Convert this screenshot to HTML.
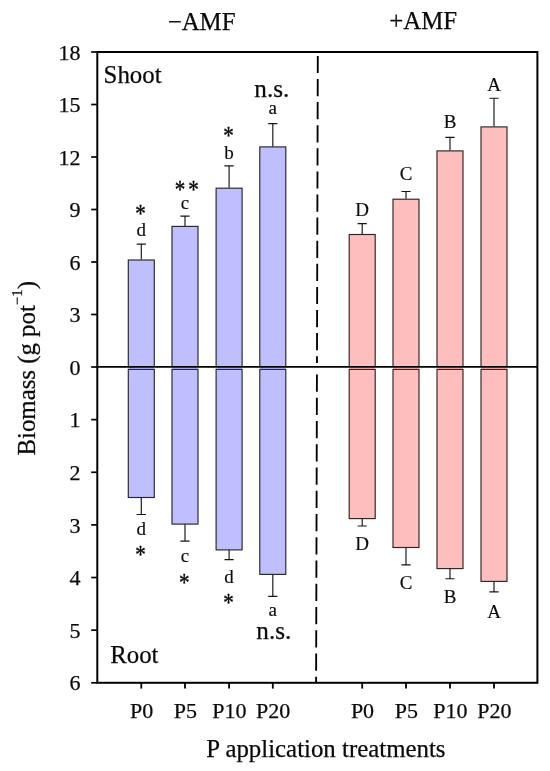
<!DOCTYPE html>
<html lang="en"><head><meta charset="utf-8"><title>Biomass</title>
<style>html,body{margin:0;padding:0;background:#fff}svg{display:block}text{font-family:"Liberation Serif","Times New Roman",serif;fill:#0a0a0a;stroke:#0a0a0a;stroke-width:0.25px}</style></head><body>
<svg width="550" height="771" viewBox="0 0 550 771">
<rect width="550" height="771" fill="#fff"/>
<rect x="128.30" y="260.00" width="26.0" height="106.60" fill="#bfbffe" stroke="#26262e" stroke-width="1.15"/>
<rect x="128.30" y="366.50" width="26.0" height="3" fill="#bfbffe"/>
<rect x="128.30" y="369.40" width="26.0" height="128.10" fill="#bfbffe" stroke="#26262e" stroke-width="1.15"/>
<path d="M141.30 259.50V244.10M136.70 244.10H145.90" stroke="#151515" stroke-width="1.15" fill="none"/>
<path d="M141.30 497.60V514.50M136.70 514.50H145.90" stroke="#151515" stroke-width="1.15" fill="none"/>
<rect x="172.00" y="226.40" width="26.0" height="140.20" fill="#bfbffe" stroke="#26262e" stroke-width="1.15"/>
<rect x="172.00" y="366.50" width="26.0" height="3" fill="#bfbffe"/>
<rect x="172.00" y="369.40" width="26.0" height="154.70" fill="#bfbffe" stroke="#26262e" stroke-width="1.15"/>
<path d="M185.00 225.90V216.10M180.40 216.10H189.60" stroke="#151515" stroke-width="1.15" fill="none"/>
<path d="M185.00 524.20V541.10M180.40 541.10H189.60" stroke="#151515" stroke-width="1.15" fill="none"/>
<rect x="216.10" y="188.20" width="26.0" height="178.40" fill="#bfbffe" stroke="#26262e" stroke-width="1.15"/>
<rect x="216.10" y="366.50" width="26.0" height="3" fill="#bfbffe"/>
<rect x="216.10" y="369.40" width="26.0" height="180.50" fill="#bfbffe" stroke="#26262e" stroke-width="1.15"/>
<path d="M229.10 187.70V165.80M224.50 165.80H233.70" stroke="#151515" stroke-width="1.15" fill="none"/>
<path d="M229.10 550.00V559.60M224.50 559.60H233.70" stroke="#151515" stroke-width="1.15" fill="none"/>
<rect x="259.80" y="146.90" width="26.0" height="219.70" fill="#bfbffe" stroke="#26262e" stroke-width="1.15"/>
<rect x="259.80" y="366.50" width="26.0" height="3" fill="#bfbffe"/>
<rect x="259.80" y="369.40" width="26.0" height="205.00" fill="#bfbffe" stroke="#26262e" stroke-width="1.15"/>
<path d="M272.80 146.40V123.60M268.20 123.60H277.40" stroke="#151515" stroke-width="1.15" fill="none"/>
<path d="M272.80 574.50V596.40M268.20 596.40H277.40" stroke="#151515" stroke-width="1.15" fill="none"/>
<rect x="349.20" y="234.50" width="26.0" height="132.10" fill="#ffbebe" stroke="#2e2424" stroke-width="1.15"/>
<rect x="349.20" y="366.50" width="26.0" height="3" fill="#ffbebe"/>
<rect x="349.20" y="369.40" width="26.0" height="149.20" fill="#ffbebe" stroke="#2e2424" stroke-width="1.15"/>
<path d="M362.20 234.00V223.60M357.60 223.60H366.80" stroke="#151515" stroke-width="1.15" fill="none"/>
<path d="M362.20 518.70V526.00M357.60 526.00H366.80" stroke="#151515" stroke-width="1.15" fill="none"/>
<rect x="393.00" y="199.20" width="26.0" height="167.40" fill="#ffbebe" stroke="#2e2424" stroke-width="1.15"/>
<rect x="393.00" y="366.50" width="26.0" height="3" fill="#ffbebe"/>
<rect x="393.00" y="369.40" width="26.0" height="178.10" fill="#ffbebe" stroke="#2e2424" stroke-width="1.15"/>
<path d="M406.00 198.70V191.50M401.40 191.50H410.60" stroke="#151515" stroke-width="1.15" fill="none"/>
<path d="M406.00 547.60V564.90M401.40 564.90H410.60" stroke="#151515" stroke-width="1.15" fill="none"/>
<rect x="437.00" y="150.90" width="26.0" height="215.70" fill="#ffbebe" stroke="#2e2424" stroke-width="1.15"/>
<rect x="437.00" y="366.50" width="26.0" height="3" fill="#ffbebe"/>
<rect x="437.00" y="369.40" width="26.0" height="199.20" fill="#ffbebe" stroke="#2e2424" stroke-width="1.15"/>
<path d="M450.00 150.40V137.30M445.40 137.30H454.60" stroke="#151515" stroke-width="1.15" fill="none"/>
<path d="M450.00 568.70V578.70M445.40 578.70H454.60" stroke="#151515" stroke-width="1.15" fill="none"/>
<rect x="481.00" y="126.90" width="26.0" height="239.70" fill="#ffbebe" stroke="#2e2424" stroke-width="1.15"/>
<rect x="481.00" y="366.50" width="26.0" height="3" fill="#ffbebe"/>
<rect x="481.00" y="369.40" width="26.0" height="212.00" fill="#ffbebe" stroke="#2e2424" stroke-width="1.15"/>
<path d="M494.00 126.40V98.20M489.40 98.20H498.60" stroke="#151515" stroke-width="1.15" fill="none"/>
<path d="M494.00 581.50V591.80M489.40 591.80H498.60" stroke="#151515" stroke-width="1.15" fill="none"/>
<rect x="97.3" y="52.0" width="440.10" height="630.80" fill="none" stroke="#000" stroke-width="2"/>
<line x1="97.3" y1="366.9" x2="537.4" y2="366.9" stroke="#000" stroke-width="1.7"/>
<line x1="317.8" y1="55.9" x2="316.96" y2="363.1" stroke="#000" stroke-width="1.85" stroke-dasharray="17.2 5.9"/>
<line x1="316.93" y1="374.5" x2="316.1" y2="682.8" stroke="#000" stroke-width="1.85" stroke-dasharray="17.3 5.95"/>
<line x1="91.2" y1="367.00" x2="97.3" y2="367.00" stroke="#000" stroke-width="1.7"/>
<text x="80.6" y="374.60" font-size="22" text-anchor="end">0</text>
<line x1="91.2" y1="314.50" x2="97.3" y2="314.50" stroke="#000" stroke-width="1.7"/>
<text x="80.6" y="322.10" font-size="22" text-anchor="end">3</text>
<line x1="91.2" y1="262.00" x2="97.3" y2="262.00" stroke="#000" stroke-width="1.7"/>
<text x="80.6" y="269.60" font-size="22" text-anchor="end">6</text>
<line x1="91.2" y1="209.50" x2="97.3" y2="209.50" stroke="#000" stroke-width="1.7"/>
<text x="80.6" y="217.10" font-size="22" text-anchor="end">9</text>
<line x1="91.2" y1="157.00" x2="97.3" y2="157.00" stroke="#000" stroke-width="1.7"/>
<text x="80.6" y="164.60" font-size="22" text-anchor="end">12</text>
<line x1="91.2" y1="104.50" x2="97.3" y2="104.50" stroke="#000" stroke-width="1.7"/>
<text x="80.6" y="112.10" font-size="22" text-anchor="end">15</text>
<line x1="91.2" y1="52.00" x2="97.3" y2="52.00" stroke="#000" stroke-width="1.7"/>
<text x="80.6" y="59.60" font-size="22" text-anchor="end">18</text>
<line x1="91.2" y1="419.63" x2="97.3" y2="419.63" stroke="#000" stroke-width="1.7"/>
<text x="80.6" y="427.23" font-size="22" text-anchor="end">1</text>
<line x1="91.2" y1="472.27" x2="97.3" y2="472.27" stroke="#000" stroke-width="1.7"/>
<text x="80.6" y="479.87" font-size="22" text-anchor="end">2</text>
<line x1="91.2" y1="524.90" x2="97.3" y2="524.90" stroke="#000" stroke-width="1.7"/>
<text x="80.6" y="532.50" font-size="22" text-anchor="end">3</text>
<line x1="91.2" y1="577.53" x2="97.3" y2="577.53" stroke="#000" stroke-width="1.7"/>
<text x="80.6" y="585.13" font-size="22" text-anchor="end">4</text>
<line x1="91.2" y1="630.17" x2="97.3" y2="630.17" stroke="#000" stroke-width="1.7"/>
<text x="80.6" y="637.77" font-size="22" text-anchor="end">5</text>
<line x1="91.2" y1="682.80" x2="97.3" y2="682.80" stroke="#000" stroke-width="1.7"/>
<text x="80.6" y="690.40" font-size="22" text-anchor="end">6</text>
<line x1="141.30" y1="682.8" x2="141.30" y2="688.6" stroke="#000" stroke-width="1.8"/>
<text x="141.60" y="718.4" font-size="22" text-anchor="middle">P0</text>
<line x1="185.00" y1="682.8" x2="185.00" y2="688.6" stroke="#000" stroke-width="1.8"/>
<text x="185.30" y="718.4" font-size="22" text-anchor="middle">P5</text>
<line x1="229.10" y1="682.8" x2="229.10" y2="688.6" stroke="#000" stroke-width="1.8"/>
<text x="229.40" y="718.4" font-size="22" text-anchor="middle">P10</text>
<line x1="272.80" y1="682.8" x2="272.80" y2="688.6" stroke="#000" stroke-width="1.8"/>
<text x="273.10" y="718.4" font-size="22" text-anchor="middle">P20</text>
<line x1="362.20" y1="682.8" x2="362.20" y2="688.6" stroke="#000" stroke-width="1.8"/>
<text x="362.50" y="718.4" font-size="22" text-anchor="middle">P0</text>
<line x1="406.00" y1="682.8" x2="406.00" y2="688.6" stroke="#000" stroke-width="1.8"/>
<text x="406.30" y="718.4" font-size="22" text-anchor="middle">P5</text>
<line x1="450.00" y1="682.8" x2="450.00" y2="688.6" stroke="#000" stroke-width="1.8"/>
<text x="450.30" y="718.4" font-size="22" text-anchor="middle">P10</text>
<line x1="494.00" y1="682.8" x2="494.00" y2="688.6" stroke="#000" stroke-width="1.8"/>
<text x="494.30" y="718.4" font-size="22" text-anchor="middle">P20</text>
<text x="141.30" y="235.60" font-size="19" text-anchor="middle" style="stroke-width:0.15px">d</text>
<text transform="translate(140.60 221.70) scale(0.86 1.06)" font-size="24.5" text-anchor="middle" style="stroke-width:0.4px">*</text>
<text x="141.30" y="535.40" font-size="19" text-anchor="middle" style="stroke-width:0.15px">d</text>
<text transform="translate(140.60 562.80) scale(0.86 1.06)" font-size="24.5" text-anchor="middle" style="stroke-width:0.4px">*</text>
<text x="185.00" y="209.30" font-size="19" text-anchor="middle" style="stroke-width:0.15px">c</text>
<text transform="translate(188.30 197.50) scale(0.86 1.06)" font-size="24.5" letter-spacing="3.5" text-anchor="middle" style="stroke-width:0.4px">**</text>
<text x="185.00" y="562.00" font-size="19" text-anchor="middle" style="stroke-width:0.15px">c</text>
<text transform="translate(184.30 590.90) scale(0.86 1.06)" font-size="24.5" text-anchor="middle" style="stroke-width:0.4px">*</text>
<text x="229.10" y="159.00" font-size="19" text-anchor="middle" style="stroke-width:0.15px">b</text>
<text transform="translate(228.40 143.70) scale(0.86 1.06)" font-size="24.5" text-anchor="middle" style="stroke-width:0.4px">*</text>
<text x="229.10" y="582.60" font-size="19" text-anchor="middle" style="stroke-width:0.15px">d</text>
<text transform="translate(228.40 610.90) scale(0.86 1.06)" font-size="24.5" text-anchor="middle" style="stroke-width:0.4px">*</text>
<text x="272.80" y="114.00" font-size="19" text-anchor="middle" style="stroke-width:0.15px">a</text>
<text x="271.80" y="96.90" font-size="25.2" text-anchor="middle">n.s.</text>
<text x="272.80" y="616.20" font-size="19" text-anchor="middle" style="stroke-width:0.15px">a</text>
<text x="273.80" y="639.10" font-size="25.2" text-anchor="middle">n.s.</text>
<text x="362.20" y="215.80" font-size="19" text-anchor="middle" style="stroke-width:0.15px">D</text>
<text x="362.20" y="549.50" font-size="19" text-anchor="middle" style="stroke-width:0.15px">D</text>
<text x="406.00" y="179.80" font-size="19" text-anchor="middle" style="stroke-width:0.15px">C</text>
<text x="406.00" y="588.80" font-size="19" text-anchor="middle" style="stroke-width:0.15px">C</text>
<text x="450.00" y="127.80" font-size="19" text-anchor="middle" style="stroke-width:0.15px">B</text>
<text x="450.00" y="602.70" font-size="19" text-anchor="middle" style="stroke-width:0.15px">B</text>
<text x="494.00" y="90.90" font-size="19" text-anchor="middle" style="stroke-width:0.15px">A</text>
<text x="494.00" y="618.20" font-size="19" text-anchor="middle" style="stroke-width:0.15px">A</text>
<text x="103.6" y="83.4" font-size="24.85">Shoot</text>
<text x="110.2" y="662.5" font-size="24.85">Root</text>
<text x="201.6" y="29.5" font-size="24.85" text-anchor="middle">−AMF</text>
<text x="423.2" y="29.2" font-size="24.85" text-anchor="middle">+AMF</text>
<text x="325.9" y="757.3" font-size="24.85" text-anchor="middle">P application treatments</text>
<text transform="translate(34.8 368.3) rotate(-90)" font-size="24.85" text-anchor="middle">Biomass (g pot<tspan font-size="14.9" dy="-13.2">−1</tspan><tspan dy="13.2">)</tspan></text>
</svg></body></html>
